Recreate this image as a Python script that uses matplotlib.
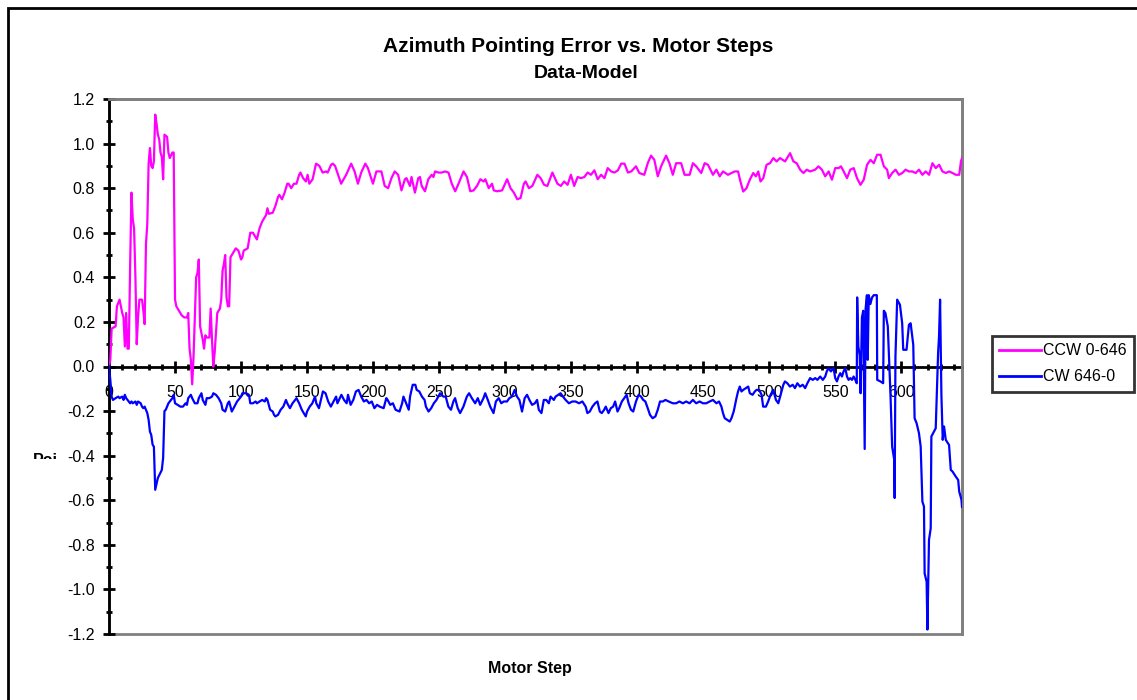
import matplotlib
matplotlib.use('Agg')
import matplotlib.pyplot as plt
from matplotlib.patches import Rectangle
from matplotlib.ticker import MultipleLocator, FormatStrFormatter
from matplotlib.transforms import Bbox, TransformedBbox

plt.rcParams['font.family'] = ['Liberation Sans', 'DejaVu Sans']

W, H = 1137, 700

# (motor step, pointing error)
ccw_points = [
    (0, 0.00), (1, 0.03), (2, 0.17), (5, 0.18), (6, 0.27), (8, 0.30), (10, 0.24), (11, 0.22),
    (12, 0.09), (13, 0.24), (14, 0.08), (15, 0.08), (16, 0.45), (17, 0.78), (18, 0.66), (19, 0.62),
    (20, 0.40), (21, 0.10), (22, 0.22), (23, 0.30), (25, 0.30), (26, 0.25), (27, 0.19), (28, 0.55),
    (29, 0.64), (30, 0.91), (31, 0.98), (32, 0.90), (33, 0.89), (34, 0.92), (35, 1.13), (36, 1.09),
    (37, 1.04), (38, 1.02), (39, 0.96), (40, 0.94), (41, 0.84), (42, 1.04), (44, 1.03), (45, 0.96),
    (46, 0.935), (48, 0.96), (49, 0.96), (50, 0.30), (51, 0.27), (53, 0.25), (55, 0.23), (57, 0.22),
    (59, 0.22), (60, 0.24), (61, 0.08), (62, 0.03), (63, -0.08), (64, 0.04), (66, 0.40), (67, 0.42),
    (68, 0.48), (69, 0.18), (71, 0.12), (72, 0.08), (73, 0.14), (74, 0.13), (76, 0.13), (77, 0.26),
    (78, 0.12), (79, 0.00), (80, 0.06), (82, 0.24), (84, 0.26), (85, 0.30), (86, 0.43), (87, 0.46),
    (88, 0.50), (89, 0.31), (90, 0.27), (91, 0.27), (92, 0.49), (95, 0.52), (96, 0.53), (98, 0.52),
    (100, 0.48), (101, 0.49), (102, 0.52), (105, 0.53), (107, 0.60), (109, 0.60), (111, 0.58),
    (112, 0.57), (114, 0.62), (116, 0.65), (119, 0.68), (120, 0.71), (121, 0.685), (124, 0.69),
    (126, 0.72), (128, 0.76), (129, 0.77), (131, 0.75), (133, 0.78), (135, 0.82), (136, 0.82),
    (138, 0.80), (140, 0.82), (142, 0.82), (144, 0.86), (145, 0.87), (147, 0.845), (149.1, 0.83),
    (150.4, 0.86), (151.7, 0.82), (154.2, 0.84), (156.8, 0.91), (159.3, 0.90), (161.8, 0.87),
    (164.4, 0.875), (165.6, 0.87), (168.2, 0.905), (169.5, 0.91), (171.2, 0.90), (175.8, 0.82),
    (179.6, 0.86), (183.4, 0.91), (186, 0.875), (188.5, 0.82), (191, 0.87), (194.1, 0.91),
    (196.1, 0.89), (199.9, 0.82), (202.5, 0.875), (206.3, 0.875), (208.8, 0.81), (211.4, 0.80),
    (213.9, 0.845), (216.4, 0.875), (219, 0.86), (221.5, 0.79), (224.1, 0.84), (225.3, 0.845),
    (227.9, 0.81), (229.1, 0.85), (231.7, 0.78), (234.2, 0.845), (235.5, 0.85), (236.8, 0.81),
    (239.3, 0.786), (241.8, 0.84), (244.4, 0.86), (245.7, 0.85), (246.9, 0.875), (249.5, 0.87),
    (252, 0.87), (254.5, 0.875), (257.1, 0.87), (259.6, 0.82), (262.2, 0.786), (264.7, 0.82),
    (268.5, 0.875), (271.1, 0.85), (273.6, 0.786), (276.1, 0.79), (278.7, 0.81), (281.2, 0.84),
    (283.8, 0.83), (285, 0.84), (287.6, 0.80), (290.1, 0.82), (291.4, 0.79), (293.9, 0.786),
    (297.7, 0.79), (301.5, 0.84), (304.1, 0.80), (306.6, 0.78), (309.2, 0.75), (311.7, 0.756),
    (314.2, 0.82), (315.5, 0.83), (318, 0.80), (320.6, 0.81), (324.4, 0.86), (326.9, 0.845),
    (329.5, 0.815), (332, 0.81), (335.8, 0.87), (339.6, 0.82), (342.2, 0.81), (344.7, 0.83),
    (347.3, 0.815), (349.8, 0.86), (352.3, 0.81), (354.9, 0.85), (357.4, 0.845), (360, 0.85),
    (362.5, 0.87), (365, 0.86), (367.6, 0.88), (370.1, 0.84), (372.7, 0.86), (375.2, 0.845),
    (377.7, 0.89), (380.3, 0.875), (382.8, 0.87), (385.4, 0.88), (387.9, 0.91), (390.4, 0.91),
    (393, 0.87), (395.5, 0.875), (399.1, 0.898), (401.6, 0.868), (405.4, 0.86), (408, 0.912),
    (410.5, 0.946), (413, 0.927), (415.6, 0.853), (418.1, 0.898), (421.9, 0.946), (424.4, 0.912),
    (427, 0.86), (429.5, 0.912), (433.3, 0.912), (435.9, 0.86), (439.7, 0.86), (442.2, 0.912),
    (444.7, 0.898), (448.5, 0.868), (451.1, 0.912), (453.6, 0.905), (457.4, 0.86), (460, 0.883),
    (462.5, 0.853), (465, 0.875), (468.8, 0.86), (471.4, 0.868), (473.9, 0.875), (476.4, 0.875),
    (478.2, 0.83), (480.3, 0.785), (482.8, 0.80), (485.3, 0.838), (487.9, 0.868), (489.9, 0.853),
    (491.7, 0.875), (493.4, 0.83), (495.5, 0.845), (498, 0.905), (500.6, 0.912), (503.1, 0.935),
    (505.6, 0.92), (508.2, 0.935), (512, 0.92), (515.8, 0.957), (518.3, 0.92), (520.8, 0.912),
    (523.4, 0.883), (525.9, 0.868), (528.5, 0.883), (531, 0.875), (534.8, 0.883), (537.3, 0.898),
    (539.9, 0.883), (542.4, 0.853), (545, 0.875), (547.5, 0.838), (550, 0.89), (552.6, 0.89),
    (554.3, 0.898), (556.4, 0.875), (558.9, 0.845), (561.4, 0.883), (564, 0.89), (566.5, 0.845),
    (569.1, 0.815), (571.6, 0.838), (574.1, 0.905), (576.7, 0.927), (579.2, 0.912), (581.7, 0.95),
    (584.3, 0.95), (586.8, 0.898), (589.3, 0.883), (590.6, 0.845), (593.1, 0.868), (595.7, 0.883),
    (598.2, 0.86), (600.8, 0.868), (603.3, 0.883), (605.8, 0.875), (608.4, 0.875), (610.9, 0.868),
    (613.4, 0.883), (616, 0.86), (618.5, 0.875), (621.1, 0.86), (623.6, 0.912), (626.1, 0.89),
    (628.7, 0.905), (631.2, 0.875), (633.7, 0.868), (636.3, 0.875), (638.8, 0.868), (641.4, 0.86),
    (643.9, 0.86), (645.2, 0.92), (646, 0.935),
]

cw_points = [
    (0, 0.0), (1, -0.06), (2, -0.135), (3, -0.15), (5, -0.142), (7, -0.135), (8, -0.142), (10, -0.135),
    (11, -0.15), (12, -0.127), (13, -0.142), (15, -0.157), (16, -0.165), (17, -0.157), (18, -0.165),
    (20, -0.157), (21, -0.172), (22, -0.157), (24, -0.165), (25, -0.18), (26, -0.187), (27, -0.18),
    (29, -0.209), (30, -0.239), (31, -0.292), (32, -0.307), (33, -0.35), (34, -0.36), (35, -0.553),
    (37, -0.50), (40, -0.464), (41, -0.41), (42, -0.20), (43, -0.194), (45, -0.165), (48, -0.142),
    (49, -0.127), (50, -0.165), (52, -0.172), (54, -0.18), (56, -0.18), (58, -0.165), (59, -0.172),
    (60, -0.142), (62, -0.127), (63, -0.142), (65, -0.165), (67, -0.165), (68, -0.142), (70, -0.12),
    (71, -0.15), (73, -0.172), (74, -0.142), (76, -0.142), (78, -0.135), (79, -0.12), (81, -0.127),
    (83, -0.142), (85, -0.165), (86, -0.194), (88, -0.202), (90, -0.165), (91, -0.157), (93, -0.202),
    (95, -0.18), (97, -0.157), (100, -0.135), (101, -0.12), (104, -0.12), (106, -0.127), (107, -0.165),
    (109, -0.165), (111, -0.157), (112, -0.165), (114, -0.157), (116, -0.15), (118, -0.157),
    (119, -0.142), (120, -0.15), (121, -0.172), (122, -0.194), (124, -0.202), (125, -0.217),
    (126, -0.224), (128, -0.217), (130, -0.194), (132, -0.18), (134, -0.15), (135, -0.165),
    (137, -0.187), (139, -0.165), (142, -0.142), (144, -0.165), (146, -0.194), (149, -0.224),
    (150, -0.202), (152, -0.18), (154, -0.165), (156, -0.135), (157, -0.165), (159, -0.187),
    (162, -0.112), (164, -0.12), (166, -0.157), (168, -0.18), (170, -0.157), (172, -0.135),
    (173, -0.165), (176, -0.127), (178, -0.15), (180, -0.165), (181, -0.127), (183, -0.172),
    (185, -0.15), (187, -0.112), (189, -0.105), (191, -0.135), (193, -0.157), (195, -0.15),
    (197, -0.165), (199, -0.157), (201, -0.187), (203, -0.172), (205, -0.18), (208, -0.187),
    (210, -0.142), (211, -0.15), (213, -0.172), (215, -0.165), (217, -0.194), (220, -0.202),
    (222, -0.165), (223, -0.135), (225, -0.165), (227, -0.194), (228, -0.135), (230, -0.082),
    (232, -0.082), (233, -0.105), (235, -0.112), (237, -0.135), (239, -0.15), (240, -0.18),
    (242, -0.202), (244, -0.187), (246, -0.165), (248, -0.15), (249.4, -0.135), (250.7, -0.12),
    (253.2, -0.135), (255, -0.135), (257, -0.18), (259, -0.194), (260.8, -0.157), (262.1, -0.142),
    (264.1, -0.187), (265.9, -0.209), (268.4, -0.18), (271, -0.135), (272.7, -0.12), (274.8, -0.142),
    (277.3, -0.165), (279.3, -0.142), (281.1, -0.172), (283.6, -0.142), (284.9, -0.12), (286.9, -0.15),
    (288.7, -0.18), (291.2, -0.209), (293, -0.157), (295.1, -0.142), (297.1, -0.165), (298.9, -0.157),
    (301.4, -0.157), (303.2, -0.142), (305.2, -0.135), (307.2, -0.105), (309, -0.135), (310.8, -0.15),
    (312.8, -0.202), (314.8, -0.142), (316.6, -0.127), (318.4, -0.15), (320.4, -0.172), (322.5, -0.165),
    (324.2, -0.15), (325.5, -0.194), (327.5, -0.209), (329.3, -0.15), (331.1, -0.15), (333.1, -0.165),
    (334.4, -0.135), (336.9, -0.15), (338.2, -0.135), (340.2, -0.127), (342, -0.12), (343.8, -0.135),
    (345.8, -0.15), (348.3, -0.165), (350.9, -0.157), (353.4, -0.157), (355.9, -0.165), (358.5, -0.157),
    (361, -0.18), (362.3, -0.209), (364.1, -0.202), (366.1, -0.18), (368.1, -0.165), (369.9, -0.157),
    (371.7, -0.202), (373.2, -0.209), (375, -0.194), (376.2, -0.18), (378.3, -0.209), (380, -0.187),
    (381.8, -0.18), (383.3, -0.157), (385.1, -0.202), (386.4, -0.187), (388.4, -0.157), (390.2, -0.142),
    (392, -0.127), (393.5, -0.165), (395.3, -0.194), (397, -0.202), (399.1, -0.157), (401.1, -0.127),
    (402.9, -0.135), (404.6, -0.15), (406.2, -0.157), (408, -0.187), (409.7, -0.217), (411.7, -0.232),
    (413.8, -0.224), (415.6, -0.194), (417.3, -0.157), (419.4, -0.157), (421.4, -0.15), (423.9, -0.157),
    (427, -0.165), (429.5, -0.165), (432, -0.157), (434.6, -0.165), (437.1, -0.157), (439.7, -0.165),
    (442.2, -0.15), (444.7, -0.165), (447.3, -0.157), (449.8, -0.165), (452.3, -0.165), (454.9, -0.157),
    (457.4, -0.15), (460, -0.165), (462, -0.157), (463.8, -0.18), (465, -0.209), (466.3, -0.232),
    (468.1, -0.239), (470.1, -0.247), (471.4, -0.232), (473.1, -0.202), (475.2, -0.142), (476.4, -0.112),
    (477.7, -0.09), (479, -0.112), (480.3, -0.105), (482.3, -0.097), (484.1, -0.09), (485.3, -0.12),
    (487.4, -0.127), (489.1, -0.112), (490.4, -0.105), (492.4, -0.105), (494.2, -0.127), (495.4, -0.18),
    (497.5, -0.18), (499.2, -0.157), (501, -0.127), (503, -0.105), (505.1, -0.15), (506.9, -0.165),
    (508.6, -0.127), (510.7, -0.082), (511.9, -0.067), (513.7, -0.075), (515.7, -0.09), (517.8, -0.082),
    (519.5, -0.097), (521.3, -0.075), (523.3, -0.09), (525.4, -0.082), (527.2, -0.097), (528.9, -0.075),
    (531, -0.052), (533, -0.06), (534.8, -0.052), (536.5, -0.06), (538.6, -0.045), (540.6, -0.06),
    (542.4, -0.045), (543.6, -0.022), (544.9, -0.007), (546.7, -0.022), (548.7, -0.007), (550, -0.052),
    (551.3, -0.067), (552.5, -0.045), (553.8, -0.03), (555.1, -0.045), (556.3, -0.022), (557.6, -0.007),
    (558.9, -0.045), (560.1, -0.06), (561.4, -0.052), (562.7, -0.06), (563.9, -0.045), (565.2, -0.06),
    (566.3, -0.075), (566.6, 0.31), (567.5, 0.09), (568.5, 0.05), (569.2, -0.12), (570.2, 0.22),
    (571.2, 0.25), (572.3, -0.37), (573, 0.26), (574, 0.32), (574.6, 0.03), (575.4, 0.32),
    (576.6, 0.28), (577.9, 0.31), (579.2, 0.32), (581.5, 0.32), (581.8, -0.06), (584.2, -0.067),
    (586.3, -0.075), (586.8, 0.25), (588, 0.24), (589.8, 0.18), (591.8, -0.12), (593.1, -0.36),
    (594.7, -0.42), (595, -0.59), (595.6, 0.045), (596.9, 0.30), (599, 0.277), (600.7, 0.194),
    (601.5, 0.075), (604, 0.075), (605.8, 0.187), (607.1, 0.194), (609.1, 0.097), (610.1, -0.232),
    (611.6, -0.254), (613.4, -0.299), (614.7, -0.359), (616, -0.606), (617.2, -0.628), (617.7, -0.928),
    (619.2, -0.965), (619.8, -1.18), (621, -0.778), (622.3, -0.726), (622.8, -0.314), (626.1, -0.277),
    (626.9, -0.127), (627.9, 0.06), (628.6, 0.135), (629.4, 0.30), (630.4, -0.127), (631.4, -0.329),
    (632.4, -0.269), (633.7, -0.329), (636.2, -0.352), (637.5, -0.464), (638.8, -0.471), (641.3, -0.494),
    (643.1, -0.509), (643.9, -0.561), (645.6, -0.598), (646, -0.63),
]

ccw_step, ccw_err = zip(*ccw_points)
cw_step, cw_err = zip(*cw_points)

fig = plt.figure(figsize=(W / 100, H / 100), dpi=100)
ax = fig.add_axes([109 / W, 1 - 634 / H, (962 - 109) / W, (634 - 99) / H])

ax.plot(ccw_step, ccw_err, color='#FF00FF', lw=1.6, label='CCW 0-646', zorder=3)
ax.plot(cw_step, cw_err, color='#0000FF', lw=1.6, label='CW 646-0', zorder=3)

ax.set_xlim(0, 646)
ax.set_ylim(-1.2, 1.2)

ax.xaxis.set_major_locator(MultipleLocator(50))
ax.xaxis.set_minor_locator(MultipleLocator(10))
ax.yaxis.set_major_locator(MultipleLocator(0.2))
ax.yaxis.set_minor_locator(MultipleLocator(0.1))
ax.yaxis.set_major_formatter(FormatStrFormatter('%.1f'))

# x axis crosses at zero, like the original sheet
ax.spines['bottom'].set_position(('data', 0))
ax.spines['bottom'].set_linewidth(2)
ax.spines['left'].set_linewidth(2)
ax.spines['bottom'].set_zorder(2)
for s in ['top', 'right']:
    ax.spines[s].set_color('#808080')
    ax.spines[s].set_linewidth(2)
ax.add_patch(Rectangle((0, 0), 1, 1, transform=ax.transAxes, fill=False,
                       edgecolor='#808080', lw=2, zorder=0, clip_on=False))

ax.tick_params(axis='both', which='major', direction='inout', length=8, width=2,
               labelsize=11.5, colors='black')
ax.tick_params(axis='both', which='minor', direction='inout', length=4, width=2)
ax.tick_params(axis='x', which='major', pad=9)
ax.tick_params(axis='y', which='major', pad=6)

fig.text(578 / W, 1 - 47 / H, 'Azimuth Pointing Error vs. Motor Steps', ha='center', va='center',
         fontsize=15, fontweight='bold')
fig.text(586 / W, 1 - 74 / H, 'Data-Model', ha='center', va='center',
         fontsize=14, fontweight='bold')
fig.text(530 / W, 1 - 668 / H, 'Motor Step', ha='center', va='center',
         fontsize=11.5, fontweight='bold')

# y label mostly hidden behind the tick labels in the original
ylab = fig.text(33 / W, 1 - 453 / H, 'Poi', ha='left', va='top', fontsize=11.5, fontweight='bold')
ylab.set_clip_box(TransformedBbox(Bbox.from_extents(30 / W, 1 - 459 / H, 64 / W, 1 - 450 / H),
                                  fig.transFigure))
ylab.set_clip_on(True)

leg = fig.legend(loc='upper left', bbox_to_anchor=(992 / W, 1 - 336 / H), fontsize=11.5,
                 frameon=True, fancybox=False, borderaxespad=0, borderpad=0.45,
                 handlelength=2.6, handletextpad=0.15, labelspacing=0.7)
leg.get_frame().set_edgecolor('black')
leg.get_frame().set_linewidth(2)
for line in leg.get_lines():
    line.set_linewidth(2)

# outer chart-area border
fig.add_artist(Rectangle((8 / W, -0.1), 1.2, 1 - 8 / H + 0.1, transform=fig.transFigure,
                         fill=False, edgecolor='black', lw=2))

fig.savefig('out.png', dpi=100)
